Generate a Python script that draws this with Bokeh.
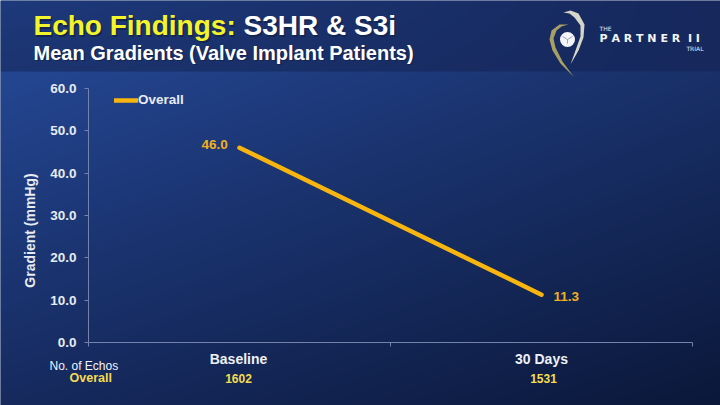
import numpy as np
from bokeh.core.properties import value
from bokeh.embed import file_html
from bokeh.models import FixedTicker, Legend, LegendItem, LinearAxis, Range1d
from bokeh.plotting import figure
from bokeh.resources import INLINE

# Chart values
categories = ["Baseline", "30 Days"]
overall_gradient = [46.0, 11.3]
overall_echos = ["1602", "1531"]
y_ticks = [0, 10, 20, 30, 40, 50, 60]

SANS = value("Liberation Sans")
LOGO = value("DejaVu Sans")

W, H = 720, 405
PX_Y = 254 / 60
PX_X = 302.0
x_range = Range1d(-0.5 - 88 / PX_X, 1.5 + 28 / PX_X)
y_range = Range1d(-63 / PX_Y, 60 + 88 / PX_Y)

p = figure(width=W, height=H, x_range=x_range, y_range=y_range,
           output_backend="svg", toolbar_location=None,
           x_axis_location=None, y_axis_location=None, min_border=0)
p.grid.visible = False
p.outline_line_color = None
p.background_fill_color = "#16306a"
p.border_fill_color = "#16306a"

# decoration layer works in plain picture pixels
p.extra_x_ranges["px"] = Range1d(0, W)
p.extra_y_ranges["px"] = Range1d(H, 0)
px = dict(x_range_name="px", y_range_name="px")


def gradient(h, w, tl, tr, bl, br):
    ty, tx = np.mgrid[0:1:h * 1j, 0:1:w * 1j]
    out = np.zeros((h, w), dtype=np.uint32)
    view = out.view(np.uint8).reshape((h, w, 4))
    for i in range(3):
        view[:, :, i] = (tl[i] * (1 - tx) * (1 - ty) + tr[i] * tx * (1 - ty)
                         + bl[i] * (1 - tx) * ty + br[i] * tx * ty)
    view[:, :, 3] = 255
    return out


head = gradient(71, W, (30, 58, 124), (22, 40, 92), (28, 52, 112), (22, 40, 92))
body = gradient(H - 71, W, (36, 70, 146), (25, 48, 104), (22, 42, 94), (11, 24, 58))
p.image_rgba(image=[head], x=0, y=0, dw=W, dh=71, **px)
p.image_rgba(image=[body], x=0, y=71, dw=W, dh=H - 71, **px)

# axes
yaxis = LinearAxis(fixed_location=-0.5, ticker=FixedTicker(ticks=y_ticks), bounds=(0, 60))
yaxis.major_label_overrides = {t: f"{t:.1f}" for t in y_ticks}
xaxis = LinearAxis(fixed_location=0, ticker=FixedTicker(ticks=[-0.5, 0.5, 1.5]), bounds=(-0.5, 1.5),
                   major_label_text_color=None)
for ax in (xaxis, yaxis):
    ax.axis_line_color = "#7483ab"
    ax.major_tick_line_color = "#7483ab"
    ax.minor_tick_line_color = None
    ax.major_tick_in = 0
    ax.major_tick_out = 4
yaxis.major_label_text_font = "Liberation Sans"
yaxis.major_label_text_font_size = "13.5px"
yaxis.major_label_text_font_style = "bold"
yaxis.major_label_text_color = "#e8ebf2"
yaxis.major_label_standoff = 8
p.add_layout(yaxis, "left")
p.add_layout(xaxis, "below")
p.text([29], [230], text=["Gradient (mmHg)"], angle=np.pi / 2, text_color="#e8ebf2", text_font=SANS,
       text_font_size="14px", text_font_style="bold", text_align="center", text_baseline="middle", **px)

# series
xs = list(range(len(categories)))
line = p.line(xs, overall_gradient, line_color="#f9b50f", line_width=4.5, line_cap="round")
p.text([201], [143.5], text=[f"{overall_gradient[0]:.1f}"],
       text_color="#f2b01e", text_font=SANS, text_font_size="13.5px",
       text_font_style="bold", text_baseline="middle", **px)
p.text([553], [295.5], text=[f"{overall_gradient[1]:.1f}"],
       text_color="#f2b01e", text_font=SANS, text_font_size="13.5px",
       text_font_style="bold", text_baseline="middle", **px)

legend = Legend(items=[LegendItem(label="Overall", renderers=[line])], location=(114, 298),
                background_fill_alpha=0, border_line_alpha=0, glyph_width=24, glyph_height=10,
                label_standoff=0, padding=0, margin=0,
                label_text_font="Liberation Sans", label_text_font_size="13.5px",
                label_text_font_style="bold", label_text_color="#e8ebf2")
p.add_layout(legend)

# table below the axis
p.text([238, 541], [358.5, 358.5], text=categories, text_color="#eef0f6", text_font=SANS,
       text_font_size="14px", text_font_style="bold", text_align="center", text_baseline="middle", **px)
p.text([238, 543], [377.5, 377.5], text=overall_echos, text_color="#f4dc50", text_font=SANS,
       text_font_size="12px", text_font_style="bold", text_align="center", text_baseline="middle", **px)
p.text([49], [365], text=["No. of Echos"], text_color="#f2f4f8", text_font=SANS,
       text_font_size="12px", text_baseline="middle", **px)
p.text([69], [377.5], text=["Overall"], text_color="#f4dc50", text_font=SANS,
       text_font_size="12.5px", text_font_style="bold", text_baseline="middle", **px)

# headline, with a drop shadow
for dx, c1, c2 in ((1.5, "#14254f", "#14254f"), (0, "#f4f42a", "#ffffff")):
    p.text([33 + dx], [25 + dx], text=["Echo Findings:"], text_color=c1, text_font=SANS,
           text_font_size="28px", text_font_style="bold", text_baseline="middle", **px)
    p.text([243 + dx], [25 + dx], text=["S3HR & S3i"], text_color=c2, text_font=SANS,
           text_font_size="28px", text_font_style="bold", text_baseline="middle", **px)
    p.text([33 + dx], [52 + dx], text=["Mean Gradients (Valve Implant Patients)"], text_color=c2,
           text_font=SANS, text_font_size="20px", text_font_style="bold",
           text_baseline="middle", **px)

# logo
p.patch([563, 570, 578, 584, 583, 578, 570, 575, 580, 580, 574, 569],
        [12, 10, 13, 24, 37, 50, 64, 50, 36, 25, 17, 13], fill_color="#d5d6c8", line_color=None, **px)
p.patch([568, 559, 551, 549, 552, 560, 573, 562, 555, 553, 556, 561],
        [24, 24, 30, 39, 50, 63, 76, 61, 47, 38, 30, 26], fill_color="#a79f63", line_color=None, **px)
p.scatter([567], [39], size=15, fill_color="#f4f5f7", line_color=None, **px)
p.segment([567, 567, 567], [39, 39, 39], [567, 572, 562], [43, 36, 36],
          line_color="#9aa3b8", line_width=1, **px)
p.text([599], [28], text=["THE"], text_color="#e8ebf2", text_font=LOGO,
       text_font_size="6px", text_baseline="middle", **px)
p.text([599], [38], text=["P A R T N E R \u00a0I I"], text_color="#f4f5f7", text_font=LOGO,
       text_font_size="11px", text_font_style="bold", text_baseline="middle", **px)
p.text([703], [48], text=["TRIAL"], text_color="#e8ebf2", text_font=LOGO,
       text_font_size="6px", text_align="right", text_baseline="middle", **px)

open("out.html", "w").write(file_html(p, INLINE))
